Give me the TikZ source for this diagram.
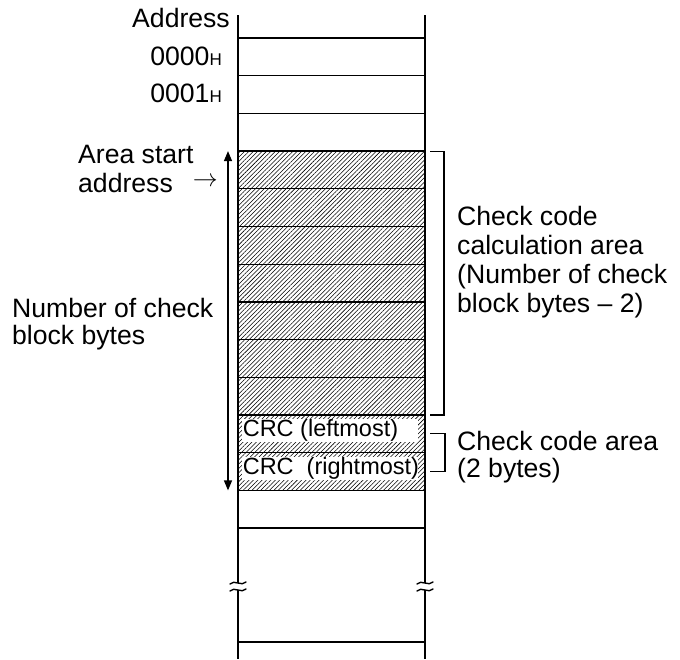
\documentclass[tikz,border=0pt]{standalone}
\usepackage{fontspec}
\setmainfont{Liberation Sans}
\usetikzlibrary{arrows.meta,patterns.meta,positioning,calc}
\newcommand{\crcbox}[1]{\makebox[175pt][l]{#1}}

\begin{document}
\begin{tikzpicture}[x=1pt,y=-1pt,
  cell/.style={draw=black,line width=1.3pt,minimum width=187pt,
               minimum height=37.7pt,inner sep=0pt,outer sep=0pt},
  hatched/.style={pattern={Lines[angle=45,distance=3.1pt,line width=0.55pt]}},
  lbl/.style={font=\fontsize{26.6}{29}\selectfont,align=left,inner sep=0pt},
  crc/.style={fill=white,font=\fontsize{23.5}{26}\selectfont,inner sep=0.6pt},
  brk/.style={line width=1.4pt,line cap=round}]
\useasboundingbox (0,0) rectangle (680,659);
% memory cells
\foreach \i in {0,1,2,12}
  \node[cell] (r\i) at (331.5,{38+37.7*(\i+0.5)}) {};
\foreach \i in {3,...,11}
  \node[cell,hatched] (r\i) at (331.5,{38+37.7*(\i+0.5)}) {};
\node[crc,anchor=west] (lo) at ($(r10.west)+(4pt,0)$) [yshift=3pt] {\crcbox{CRC (leftmost)}};
\node[crc,anchor=west] (hi) at ($(r11.west)+(4pt,0)$) [yshift=3pt] {\crcbox{CRC\ \ (rightmost)}};
\coordinate (bot) at (331.5,642);
\draw[line width=1.3pt] (bot -| r12.west) -- (bot -| r12.east);
% side lines
\draw[line width=1.8pt] (238,15) -- (238,659);
\draw[line width=1.8pt] (425,15) -- (425,659);
% breaks
\foreach \x in {238,425}{
  \fill[white] (\x-8,584) .. controls (\x-4,579) and (\x+4,587) .. (\x+8,582)
    -- (\x+8,589) .. controls (\x+4,594) and (\x-4,586) .. (\x-8,591) -- cycle;
  \draw[brk] (\x-8,584) .. controls (\x-4,579) and (\x+4,587) .. (\x+8,582);
  \draw[brk] (\x-8,591) .. controls (\x-4,586) and (\x+4,594) .. (\x+8,589);
}
% addresses
\node[lbl,anchor=base east] (adr) at (230,27) {Address};
\node[lbl,anchor=base east] (a0) at (222,65) {0000{\fontsize{17}{17}\selectfont H}};
\node[lbl,anchor=base east] (a1) at (222,102) {0001{\fontsize{17}{17}\selectfont H}};
\node[lbl,anchor=base west] (start) at (78,192)
  {Area start\\address\hspace{20pt}\raisebox{6pt}{$\rightarrow$}};
\node[lbl,anchor=base west] (num) at (12,344) {Number of check\\[-2pt]block bytes};
% length arrow
\draw[{Triangle[length=10pt,width=8pt]}-{Triangle[length=10pt,width=8pt]},line width=1.3pt]
  ($(r3.north west)+(-10pt,0)$) -- ($(r11.south west)+(-10pt,0)$);
% brackets
\draw[line width=1.1pt] ($(r3.north east)+(5pt,0)$) -- ++(14,0)
  |- ($(r9.south east)+(5pt,0)$);
\draw[line width=1.1pt] ($(r10.east)+(5pt,0)$) -- ++(15,0)
  |- ($(r11.east)+(5pt,0)$);
\node[lbl,anchor=base west] (calc) at (457,312)
  {Check code\\calculation area\\(Number of check\\block bytes – 2)};
\node[lbl,anchor=base west] (code) at (457,477) {Check code area\\[-2pt](2 bytes)};
\end{tikzpicture}
\end{document}
